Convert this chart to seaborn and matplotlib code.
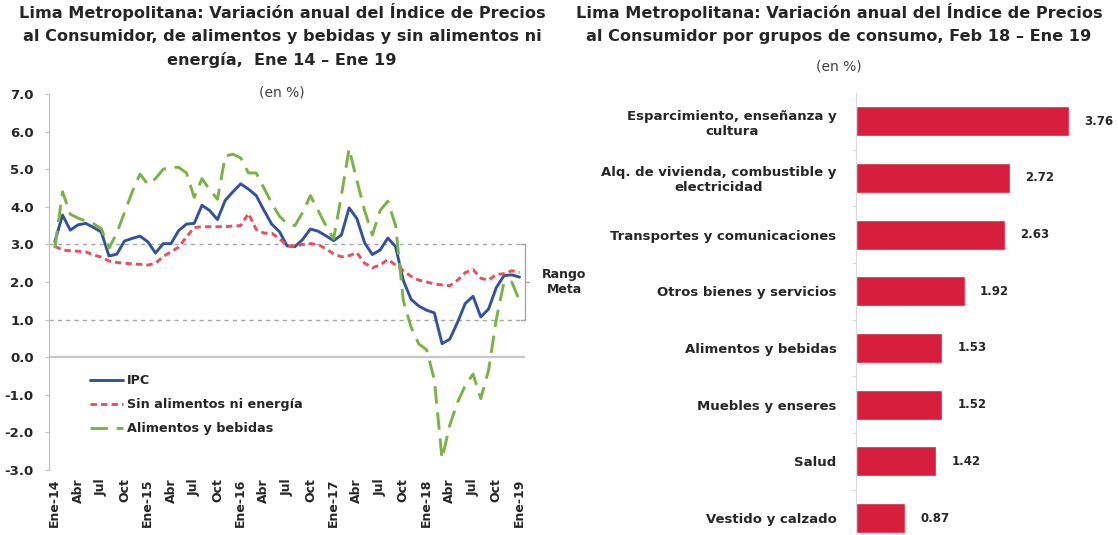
import numpy as np
import pandas as pd
import seaborn as sns
import matplotlib.pyplot as plt

sns.set_style('white')
plt.rcParams['font.family'] = ['DejaVu Sans']
plt.rcParams['text.color'] = '#262626'

# Serie mensual Ene-14 a Ene-19 (variación anual, %)
ipc = [3.07, 3.78, 3.38, 3.52, 3.56, 3.45, 3.33, 2.69, 2.74, 3.09, 3.16, 3.22,
       3.07, 2.77, 3.02, 3.02, 3.37, 3.54, 3.56, 4.04, 3.90, 3.66, 4.17, 4.40,
       4.61, 4.47, 4.30, 3.91, 3.54, 3.34, 2.96, 2.94, 3.13, 3.41, 3.35, 3.23,
       3.10, 3.25, 3.97, 3.69, 3.04, 2.73, 2.85, 3.17, 2.94, 2.04, 1.54, 1.36,
       1.25, 1.18, 0.36, 0.48, 0.93, 1.43, 1.62, 1.07, 1.28, 1.85, 2.17, 2.19,
       2.13]
sin_alim_energia = [2.95, 2.85, 2.83, 2.82, 2.80, 2.72, 2.66, 2.56, 2.52, 2.50, 2.48, 2.47,
                    2.45, 2.50, 2.68, 2.80, 2.93, 3.20, 3.45, 3.47, 3.47, 3.47, 3.47, 3.49,
                    3.50, 3.82, 3.40, 3.30, 3.30, 3.15, 2.97, 2.95, 3.00, 3.02, 3.00, 2.88,
                    2.75, 2.67, 2.70, 2.78, 2.50, 2.38, 2.45, 2.60, 2.45, 2.30, 2.15, 2.05,
                    2.00, 1.95, 1.92, 1.90, 2.05, 2.25, 2.33, 2.10, 2.05, 2.20, 2.22, 2.30,
                    2.25]
alim_bebidas = [2.90, 4.40, 3.80, 3.70, 3.62, 3.55, 3.42, 2.90, 3.30, 3.85, 4.40, 4.87,
                4.60, 4.75, 5.00, 5.05, 5.05, 4.90, 4.25, 4.75, 4.45, 4.20, 5.35, 5.40,
                5.30, 4.90, 4.90, 4.50, 4.10, 3.75, 3.55, 3.50, 3.85, 4.30, 3.90, 3.50,
                3.15, 4.30, 5.55, 4.70, 3.90, 3.25, 3.90, 4.15, 3.50, 1.50, 0.80, 0.35,
                0.20, -0.60, -2.70, -1.80, -1.20, -0.75, -0.45, -1.10, -0.35, 1.00, 2.00, 2.00,
                1.50]
etiquetas_x = ['Ene-14', 'Abr', 'Jul', 'Oct', 'Ene-15', 'Abr', 'Jul', 'Oct',
               'Ene-16', 'Abr', 'Jul', 'Oct', 'Ene-17', 'Abr', 'Jul', 'Oct',
               'Ene-18', 'Abr', 'Jul', 'Oct', 'Ene-19']
rango_meta = [1.0, 3.0]

# Grupos de consumo Feb 18 - Ene 19
grupos = ['Esparcimiento, enseñanza y\ncultura',
          'Alq. de vivienda, combustible y\nelectricidad',
          'Transportes y comunicaciones',
          'Otros bienes y servicios',
          'Alimentos y bebidas',
          'Muebles y enseres',
          'Salud',
          'Vestido y calzado']
variacion = [3.76, 2.72, 2.63, 1.92, 1.53, 1.52, 1.42, 0.87]

series = {'IPC': ipc,
          'Sin alimentos ni energía': sin_alim_energia,
          'Alimentos y bebidas': alim_bebidas}
mes = np.arange(len(ipc))
df = pd.concat([pd.DataFrame({'mes': mes, 'valor': v, 'serie': k}) for k, v in series.items()])

colores = {'IPC': '#34519F', 'Sin alimentos ni energía': '#E8505B', 'Alimentos y bebidas': '#7BB246'}
trazos = {'IPC': '', 'Sin alimentos ni energía': (2.2, 1.4), 'Alimentos y bebidas': (6, 3)}

W, H = 1118, 535
fig = plt.figure(figsize=(W / 100, H / 100), dpi=100)
ax1 = fig.add_axes([49 / W, 1 - 470 / H, (535 - 49) / W, (470 - 94) / H])
ax2 = fig.add_axes([856 / W, 0, (1116 - 856) / W, 1 - 93 / H])

# --- Gráfico de líneas ---
sns.lineplot(data=df, x='mes', y='valor', hue='serie', style='serie',
             palette=colores, dashes=trazos, linewidth=2.1, ax=ax1)
x_fin = len(mes) - 1 + 0.7
ax1.hlines(rango_meta, -0.75, x_fin, colors='#A6A6A6', linestyles=(0, (3, 3)), lw=1, zorder=0)
ax1.hlines(0, -0.75, x_fin, colors='#C8C8C8', lw=1.6, zorder=0)
ax1.plot([x_fin - 0.5, x_fin, x_fin, x_fin - 0.5], [rango_meta[1], rango_meta[1], rango_meta[0], rango_meta[0]],
         color='#A6A6A6', lw=1)
ax1.plot([x_fin, x_fin + 0.5], [np.mean(rango_meta)] * 2, color='#A6A6A6', lw=1)
ax1.text(x_fin + 5.1, np.mean(rango_meta), 'Rango\nMeta', ha='center', va='center',
         fontsize=9, fontweight='bold', clip_on=False)

ax1.set_xlim(-0.75, 62)
ax1.set_ylim(-3, 7)
ax1.set_yticks(np.arange(-3, 8))
ax1.set_yticklabels([f'{v:.1f}' for v in np.arange(-3, 8)], fontsize=9.5, fontweight='bold')
ax1.set_xticks(mes[::3])
ax1.set_xticklabels(etiquetas_x, rotation=90, fontsize=9, fontweight='bold')
ax1.tick_params(axis='y', length=3, color='#BFBFBF', pad=8, left=True)
ax1.tick_params(axis='x', length=0, pad=6)
ax1.set_xlabel('')
ax1.set_ylabel('')
for s in ['top', 'right', 'bottom']:
    ax1.spines[s].set_visible(False)
ax1.spines['left'].set_color('#BFBFBF')
sns.move_legend(ax1, 'upper left', bbox_to_anchor=(0.06, 0.285), frameon=False, title=None,
                fontsize=9.2, handlelength=2.6, labelspacing=0.85, handletextpad=0.3)
for t in ax1.get_legend().get_texts():
    t.set_fontweight('bold')

# --- Gráfico de barras ---
sns.barplot(x=variacion, y=grupos, orient='h', color='#D81E3D', saturation=1, width=0.53, ax=ax2)
ax2.bar_label(ax2.containers[0], fmt='%.2f', padding=11, fontsize=8.5, fontweight='bold')
ax2.set_xlim(0, 4.6)
ax2.set_ylim(7.3, -0.5)
ax2.set_xticks([])
ax2.set_yticks(np.arange(len(grupos) - 1) + 0.5, minor=True)
ax2.tick_params(axis='y', which='major', length=0, pad=14, labelsize=9.5)
ax2.tick_params(axis='y', which='minor', length=3, color='#D0D0D0', left=True)
for t in ax2.get_yticklabels():
    t.set_fontweight('bold')
    t.set_multialignment('center')
ax2.set_xlabel('')
ax2.set_ylabel('')
for s in ['top', 'right', 'bottom']:
    ax2.spines[s].set_visible(False)
ax2.spines['left'].set_color('#D9D9D9')

# --- Títulos ---
fig.text(282 / W, 1 - 3 / H,
         'Lima Metropolitana: Variación anual del Índice de Precios\n'
         'al Consumidor, de alimentos y bebidas y sin alimentos ni\n'
         'energía,  Ene 14 – Ene 19',
         ha='center', va='top', multialignment='center', fontsize=11.6, fontweight='bold', linespacing=1.66)
fig.text(282 / W, 1 - 92 / H, '(en %)', ha='center', va='center', fontsize=10, color='#404040')
fig.text(839 / W, 1 - 3 / H,
         'Lima Metropolitana: Variación anual del Índice de Precios\n'
         'al Consumidor por grupos de consumo, Feb 18 – Ene 19',
         ha='center', va='top', multialignment='center', fontsize=11.6, fontweight='bold', linespacing=1.66)
fig.text(839 / W, 1 - 67 / H, '(en %)', ha='center', va='center', fontsize=10, color='#404040')

fig.savefig('out.png', dpi=100)
